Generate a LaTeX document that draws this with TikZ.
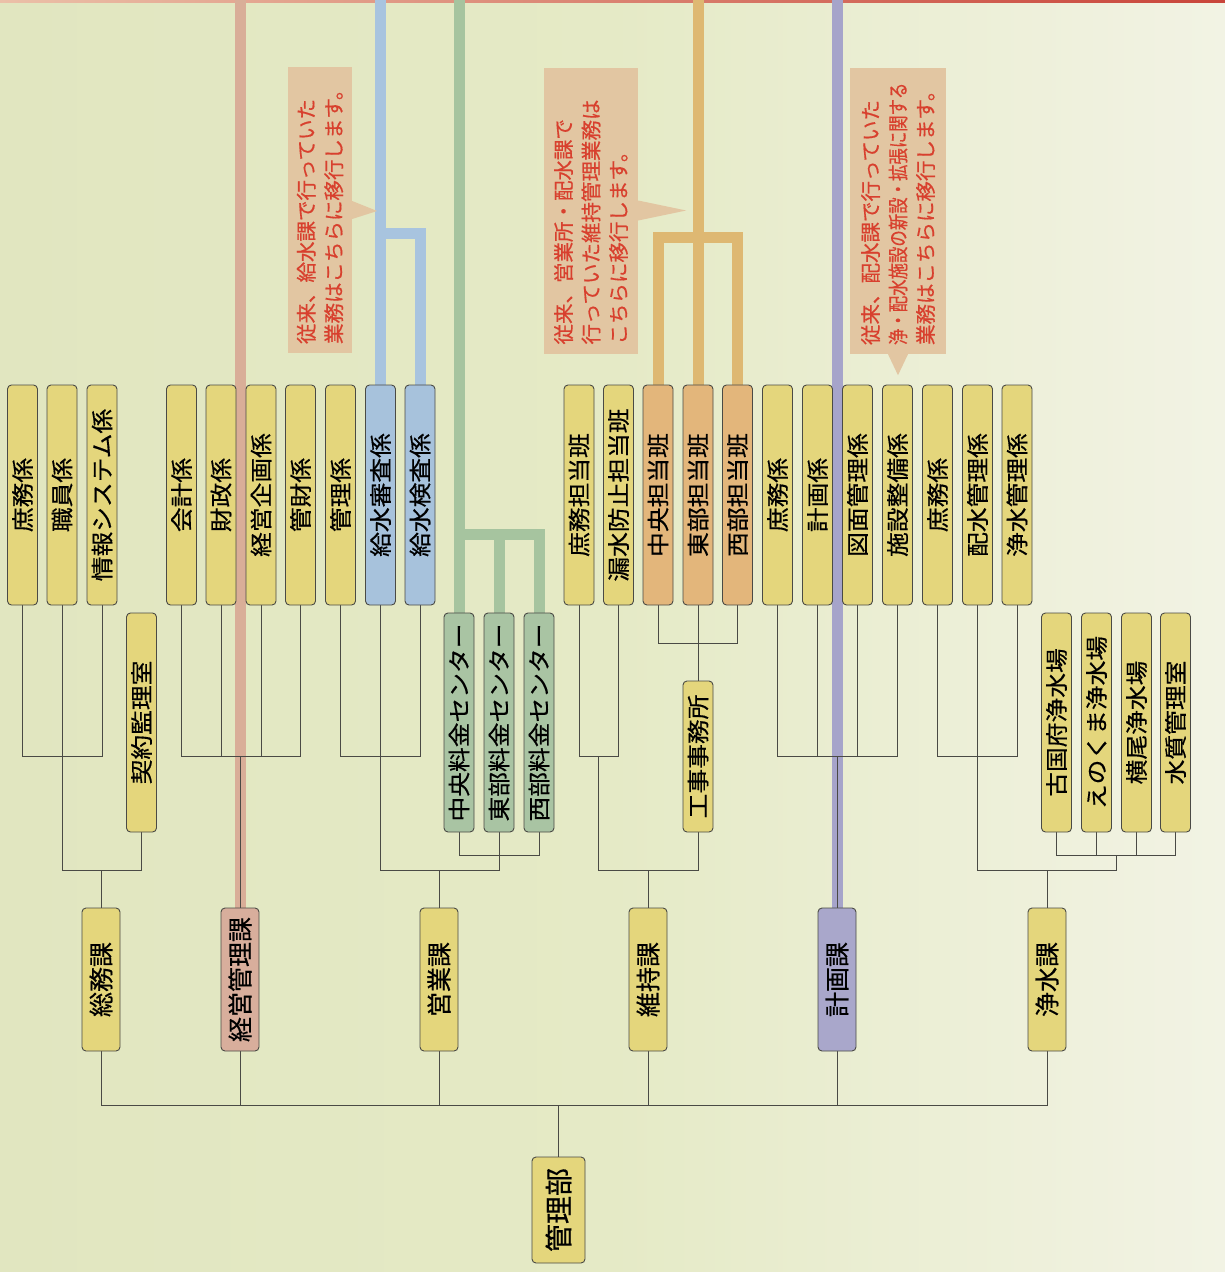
\documentclass[tikz,border=0pt]{standalone}
\usepackage{fontspec}
\usepackage{graphicx}
\setmainfont{Noto Sans CJK JP}
\newfontfamily\jpfont[FakeBold=0.5]{Noto Sans CJK JP}
\newfontfamily\jpwide[FakeStretch=1.1, FakeBold=0.5]{Noto Sans CJK JP}
\usetikzlibrary{calc, backgrounds}
\definecolor{bgleft}{HTML}{E1E6C0}
\definecolor{bgmid}{HTML}{E5EAC6}
\definecolor{bgright}{HTML}{F2F3E4}
\definecolor{boxline}{HTML}{4A4A45}
\definecolor{linkgray}{HTML}{4A4A45}
\definecolor{boxyellow}{HTML}{E4D67C}
\definecolor{boxblue}{HTML}{A7C2DC}
\definecolor{boxgreen}{HTML}{A9C4A3}
\definecolor{boxorange}{HTML}{E3B67B}
\definecolor{boxsalmon}{HTML}{D8AE9C}
\definecolor{boxpurple}{HTML}{A9A7CB}
\definecolor{streamsalmon}{HTML}{D9AE98}
\definecolor{streamblue}{HTML}{A8C4DF}
\definecolor{streamgreen}{HTML}{A6C49F}
\definecolor{streamgold}{HTML}{DEB872}
\definecolor{streampurple}{HTML}{A6A4CA}
\definecolor{calloutfill}{HTML}{E2C6A2}
\definecolor{callouttext}{HTML}{D8402E}
\definecolor{topred}{HTML}{C9453A}
\definecolor{topredlight}{HTML}{EBC0A8}

\begin{document}
\begin{tikzpicture}[x=1pt, y=-1pt, font=\jpfont]
  % Box Styles
  \tikzstyle{kakari} = [draw=boxline, fill=boxyellow, rounded corners=4pt, rotate=90,
    minimum width=220pt, minimum height=30pt, inner sep=0pt, line width=0.9pt,
    font=\jpwide\fontsize{22.5}{22.5}\selectfont]
  \tikzstyle{ka} = [draw=boxline, fill=boxyellow, rounded corners=4pt, rotate=90,
    minimum width=143pt, minimum height=38pt, inner sep=0pt, line width=0.9pt,
    font=\jpfont\fontsize{25}{25}\selectfont]
  \tikzstyle{callout} = [fill=calloutfill, rotate=90, align=left, inner xsep=9pt, inner ysep=0pt,
    text width=268pt, text=callouttext, font=\jpfont\fontsize{20.5}{27.5}\selectfont]
  \tikzstyle{link} = [draw=linkgray, line width=0.8pt]
  \tikzstyle{stream} = [line width=11pt]

  \useasboundingbox (0,0) rectangle (1225,1272);

  % Root
  \node[ka, minimum width=106pt, minimum height=53pt, font=\jpfont\fontsize{28}{28}\selectfont]
    (kanribu) at (558.5,1210) {管理部};

  % Sections
  \node[ka] (somu) at (101,979.5) {総務課};
  \node[ka, fill=boxsalmon] (keiei) at (240,979.5) {経営管理課};
  \node[ka] (eigyo) at (439,979.5) {営業課};
  \node[ka] (iji) at (648,979.5) {維持課};
  \node[ka, fill=boxpurple] (keikaku) at (837,979.5) {計画課};
  \node[ka] (josui) at (1047,979.5) {浄水課};

  % Group: 総務課
  \node[kakari] (somuShomu) at (22.5,495) {庶務係};
  \node[kakari] (somuShokuin) at (62,495) {職員係};
  \node[kakari] (somuJoho) at (102,495) {情報システム係};
  \node[kakari, minimum width=219pt] (keiyaku) at (141.5,722.5) {契約監理室};

  % Group: 経営管理課
  \node[kakari] (kaikei) at (181.5,495) {会計係};
  \node[kakari] (zaisei) at (221,495) {財政係};
  \node[kakari] (keieiKikaku) at (261,495) {経営企画係};
  \node[kakari] (kanzai) at (300.5,495) {管財係};

  % Group: 営業課
  \node[kakari] (eigyoKanri) at (340.5,495) {管理係};
  \node[kakari, fill=boxblue] (shinsa) at (380.5,495) {給水審査係};
  \node[kakari, fill=boxblue] (kensa) at (420,495) {給水検査係};
  \node[kakari, fill=boxgreen, minimum width=219pt] (chuoRyokin) at (459,722.5) {中央料金センター};
  \node[kakari, fill=boxgreen, minimum width=219pt] (tobuRyokin) at (499,722.5) {東部料金センター};
  \node[kakari, fill=boxgreen, minimum width=219pt] (seibuRyokin) at (539,722.5) {西部料金センター};

  % Group: 維持課
  \node[kakari] (ijiShomu) at (579,495) {庶務担当班};
  \node[kakari] (rosui) at (618.5,495) {漏水防止担当班};
  \node[kakari, fill=boxorange] (chuoHan) at (658,495) {中央担当班};
  \node[kakari, fill=boxorange] (tobuHan) at (698,495) {東部担当班};
  \node[kakari, fill=boxorange] (seibuHan) at (737.5,495) {西部担当班};
  \node[kakari, minimum width=151pt] (koji) at (698,756.5) {工事事務所};

  % Group: 計画課
  \node[kakari] (keikakuShomu) at (777.5,495) {庶務係};
  \node[kakari] (keikakuKakari) at (817.5,495) {計画係};
  \node[kakari] (zumen) at (857.5,495) {図面管理係};
  \node[kakari] (shisetsu) at (897.5,495) {施設整備係};

  % Group: 浄水課
  \node[kakari] (josuiShomu) at (937.5,495) {庶務係};
  \node[kakari] (haisui) at (977.5,495) {配水管理係};
  \node[kakari] (josuiKanri) at (1017,495) {浄水管理係};
  \node[kakari, minimum width=219pt] (kokufu) at (1056.5,722.5) {古国府浄水場};
  \node[kakari, minimum width=219pt] (enokuma) at (1096.5,722.5) {えのくま浄水場};
  \node[kakari, minimum width=219pt] (yokoo) at (1136.5,722.5) {横尾浄水場};
  \node[kakari, minimum width=219pt] (suishitsu) at (1175.5,722.5) {水質管理室};

  % Callouts
  \node[callout, minimum height=64pt] (noteKyusui) at (320,210)
    {従来、給水課で行っていた\\業務はこちらに移行します。};
  \fill[calloutfill] ($(noteKyusui.south)+(0,-9)$) -- ($(noteKyusui.south)+(25,1)$)
    -- ($(noteKyusui.south)+(0,9)$) -- cycle;
  \node[callout, minimum height=94pt] (noteIji) at (591,210.5)
    {従来、営業所・配水課で\\行っていた維持管理業務は\\こちらに移行します。};
  \fill[calloutfill] ($(noteIji.south)+(0,-10)$) -- ($(noteIji.south)+(48,0)$)
    -- ($(noteIji.south)+(0,10)$) -- cycle;
  \node[callout, minimum height=96pt] (noteKeikaku) at (898,211)
    {従来、配水課で行っていた\\\scalebox{0.8}[1]{浄・配水施設の新設・拡張に関する}\\業務はこちらに移行します。};
  \fill[calloutfill] ($(noteKeikaku.west)+(-10,0)$) -- ($(noteKeikaku.west)+(0,21)$)
    -- ($(noteKeikaku.west)+(10,0)$) -- cycle;

  % Junctions
  \coordinate (busMain) at (558.5,1105);
  \coordinate (jSomu) at (101,870);
  \coordinate (jSomuA) at (62,756);
  \coordinate (jKeiei) at (240,756);
  \coordinate (jEigyo) at (439,870);
  \coordinate (jEigyoA) at (380.5,756);
  \coordinate (jEigyoB) at (499,855);
  \coordinate (jIji) at (648,870);
  \coordinate (jIjiA) at (598.75,756);
  \coordinate (jKoji) at (698,643);
  \coordinate (jKeikaku) at (837,756);
  \coordinate (jJosui) at (1047,870);
  \coordinate (jJosuiA) at (977.5,756);
  \coordinate (jJosuiB) at (1116,855);
  \coordinate (topKeiei) at (240,0);
  \coordinate (topKyusui) at (380.5,0);
  \coordinate (forkKyusui) at (380.5,233);
  \coordinate (topRyokin) at (459,0);
  \coordinate (forkRyokin) at (459,534);
  \coordinate (topIji) at (698,0);
  \coordinate (forkIji) at (698,237);
  \coordinate (topKeikaku) at (837,0);

  \begin{scope}[on background layer]
    % Paper
    \shade[left color=bgleft, right color=bgright, middle color=bgmid] (0,0) rectangle (1225,1272);
    \shade[left color=topredlight, right color=topred] (0,0) rectangle (1225,2.5);

    % Transfer streams
    \draw[stream, streamsalmon] (topKeiei) -- (keiei.east);
    \draw[stream, streamblue] (topKyusui) -- (shinsa.east);
    \draw[stream, streamblue] (forkKyusui) -| (kensa.east);
    \draw[stream, streamgreen] (topRyokin) -- (chuoRyokin.east);
    \draw[stream, streamgreen] (forkRyokin) -| (tobuRyokin.east);
    \draw[stream, streamgreen] (forkRyokin) -| (seibuRyokin.east);
    \draw[stream, streamgold] (topIji) -- (tobuHan.east);
    \draw[stream, streamgold] (forkIji) -| (chuoHan.east);
    \draw[stream, streamgold] (forkIji) -| (seibuHan.east);
    \draw[stream, streampurple] (topKeikaku) -- (keikaku.east);

    % Root links
    \draw[link] (kanribu.east) -- (busMain);
    \draw[link] (somu.west) |- (busMain);
    \draw[link] (keiei.west) |- (busMain);
    \draw[link] (eigyo.west) |- (busMain);
    \draw[link] (iji.west) |- (busMain);
    \draw[link] (keikaku.west) |- (busMain);
    \draw[link] (josui.west) |- (busMain);

    % 総務課 links
    \draw[link] (somu.east) -- (jSomu);
    \draw[link] (keiyaku.west) |- (jSomu);
    \draw[link] (jSomuA) |- (jSomu);
    \draw[link] (somuShomu.west) |- (jSomuA);
    \draw[link] (somuShokuin.west) |- (jSomuA);
    \draw[link] (somuJoho.west) |- (jSomuA);

    % 経営管理課 links
    \draw[link] (keiei.east) -- (jKeiei);
    \draw[link] (kaikei.west) |- (jKeiei);
    \draw[link] (zaisei.west) |- (jKeiei);
    \draw[link] (keieiKikaku.west) |- (jKeiei);
    \draw[link] (kanzai.west) |- (jKeiei);

    % 営業課 links
    \draw[link] (eigyo.east) -- (jEigyo);
    \draw[link] (jEigyoA) |- (jEigyo);
    \draw[link] (jEigyoB) |- (jEigyo);
    \draw[link] (eigyoKanri.west) |- (jEigyoA);
    \draw[link] (shinsa.west) |- (jEigyoA);
    \draw[link] (kensa.west) |- (jEigyoA);
    \draw[link] (chuoRyokin.west) |- (jEigyoB);
    \draw[link] (tobuRyokin.west) |- (jEigyoB);
    \draw[link] (seibuRyokin.west) |- (jEigyoB);

    % 維持課 links
    \draw[link] (iji.east) -- (jIji);
    \draw[link] (jIjiA) |- (jIji);
    \draw[link] (koji.west) |- (jIji);
    \draw[link] (ijiShomu.west) |- (jIjiA);
    \draw[link] (rosui.west) |- (jIjiA);
    \draw[link] (koji.east) -- (jKoji);
    \draw[link] (chuoHan.west) |- (jKoji);
    \draw[link] (tobuHan.west) |- (jKoji);
    \draw[link] (seibuHan.west) |- (jKoji);

    % 計画課 links
    \draw[link] (keikaku.east) -- (jKeikaku);
    \draw[link] (keikakuShomu.west) |- (jKeikaku);
    \draw[link] (keikakuKakari.west) |- (jKeikaku);
    \draw[link] (zumen.west) |- (jKeikaku);
    \draw[link] (shisetsu.west) |- (jKeikaku);

    % 浄水課 links
    \draw[link] (josui.east) -- (jJosui);
    \draw[link] (jJosuiA) |- (jJosui);
    \draw[link] (jJosuiB) |- (jJosui);
    \draw[link] (josuiShomu.west) |- (jJosuiA);
    \draw[link] (haisui.west) |- (jJosuiA);
    \draw[link] (josuiKanri.west) |- (jJosuiA);
    \draw[link] (kokufu.west) |- (jJosuiB);
    \draw[link] (enokuma.west) |- (jJosuiB);
    \draw[link] (yokoo.west) |- (jJosuiB);
    \draw[link] (suishitsu.west) |- (jJosuiB);
  \end{scope}
\end{tikzpicture}
\end{document}
